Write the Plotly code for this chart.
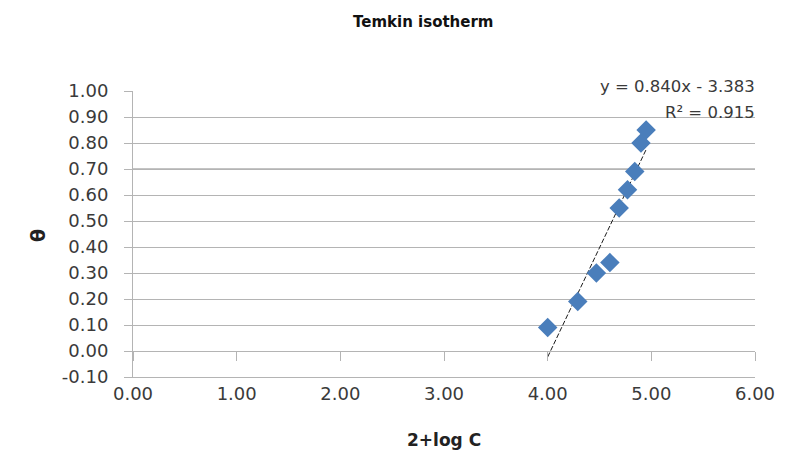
import plotly.graph_objects as go

# Temkin isotherm data: 2+log C vs surface coverage theta
log_c = [4.00, 4.29, 4.47, 4.60, 4.69, 4.77, 4.84, 4.90, 4.95]
theta = [0.09, 0.19, 0.30, 0.34, 0.55, 0.62, 0.69, 0.80, 0.85]

# Linear trendline coefficients and fit quality
slope = 0.840
intercept = -3.383
r_squared = 0.915

x_ticks = [0, 1, 2, 3, 4, 5, 6]
y_ticks = [-0.10, 0.00, 0.10, 0.20, 0.30, 0.40, 0.50, 0.60, 0.70, 0.80, 0.90, 1.00]

FONT = "DejaVu Sans"
GRID = "#b4b4b4"
TEXT = "#3a3a3a"

# plot area geometry in pixels
L, R, T, B = 133, 44, 91, 73
PW, PH = 799 - L - R, 450 - T - B

trend_x = [min(log_c), max(log_c)]
trend_y = [slope * v + intercept for v in trend_x]

fig = go.Figure()

fig.add_trace(go.Scatter(
    x=trend_x, y=trend_y, mode="lines",
    line=dict(color="#1a1a1a", width=1, dash="5px,2px"),
    hoverinfo="skip", showlegend=False,
))

fig.add_trace(go.Scatter(
    x=log_c, y=theta, mode="markers",
    marker=dict(symbol="diamond", size=15, color="#4a7ebb",
                line=dict(width=0)),
    showlegend=False,
))

# axis crossing line at theta = 0 with its tick marks
fig.add_trace(go.Scatter(x=[None], y=[None], xaxis="x2", showlegend=False))

fig.update_layout(
    width=799, height=450,
    margin=dict(l=L, r=R, t=T, b=B),
    paper_bgcolor="white", plot_bgcolor="white",
    font=dict(family=FONT, color=TEXT),
    xaxis=dict(
        range=[0, 6], tickvals=x_ticks,
        ticktext=[f"{v:.2f}" for v in x_ticks],
        showgrid=False, zeroline=False,
        showline=True, linecolor=GRID, linewidth=1,
        ticks="", tickfont=dict(size=18, family=FONT, color=TEXT),
        ticklabelstandoff=0,
    ),
    xaxis2=dict(
        range=[0, 6], overlaying="x", anchor="free",
        position=0.1 / 1.1, side="bottom",
        tickvals=x_ticks, showticklabels=False,
        showgrid=False, zeroline=False,
        showline=True, linecolor=GRID, linewidth=1,
        ticks="outside", ticklen=9, tickcolor=GRID,
    ),
    yaxis=dict(
        range=[-0.10, 1.00], tickvals=y_ticks,
        ticktext=[f"{v:.2f}" for v in y_ticks],
        showgrid=True, gridcolor=GRID, gridwidth=1,
        zeroline=False,
        showline=True, linecolor=GRID, linewidth=1,
        ticks="outside", ticklen=8, tickcolor=GRID,
        tickfont=dict(size=18, family=FONT, color=TEXT),
        ticklabelstandoff=12,
    ),
    shapes=[dict(type="line", xref="paper", yref="y", x0=0, x1=1, y0=0.70, y1=0.70,
                 line=dict(color="#8a8a8a", width=1.2), layer="below")],
    annotations=[
        dict(text="<b>Temkin isotherm</b>", xref="paper", yref="paper",
             x=(423 - L) / PW, y=1 + (T - 22) / PH, xanchor="center", yanchor="middle",
             showarrow=False, font=dict(size=15, family=FONT, color="#111")),
        dict(text="<b>θ</b>", xref="paper", yref="paper",
             x=(38 - L) / PW, y=1 - (236 - T) / PH, xanchor="center", yanchor="middle",
             textangle=-90, showarrow=False,
             font=dict(size=19, family=FONT, color="#222")),
        dict(text="<b>2+log C</b>", xref="paper", yref="paper",
             x=(444 - L) / PW, y=-(440 - T - PH) / PH, xanchor="center", yanchor="middle",
             showarrow=False, font=dict(size=17, family=FONT, color="#222")),
        dict(text=f"y = {slope:.3f}x - {abs(intercept):.3f}",
             xref="paper", yref="paper", x=1 + (757 - L - PW) / PW, y=1 + (T - 86) / PH,
             xanchor="right", yanchor="middle", showarrow=False,
             font=dict(size=16.5, family=FONT, color=TEXT)),
        dict(text=f"R² = {r_squared:.3f}",
             xref="paper", yref="paper", x=1 + (757 - L - PW) / PW, y=1 - (112 - T) / PH,
             xanchor="right", yanchor="middle", showarrow=False,
             font=dict(size=16.5, family=FONT, color=TEXT)),
    ],
)

fig.write_html("out.html")
